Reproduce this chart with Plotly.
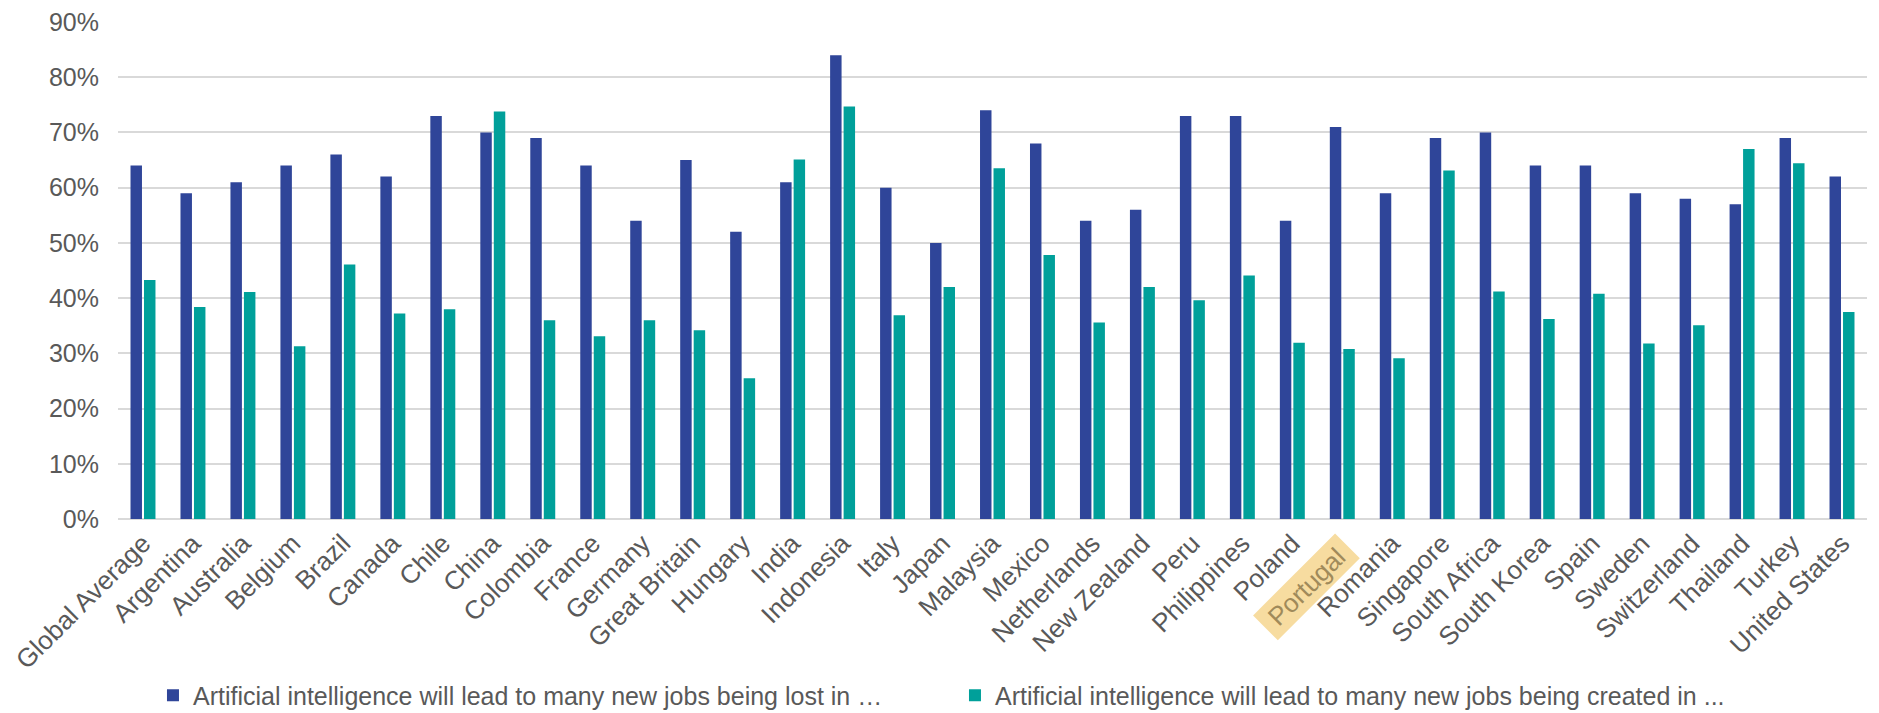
import plotly.graph_objects as go

# Share of respondents agreeing, by country (fractions of 1)
countries = [
    "Global Average", "Argentina", "Australia", "Belgium", "Brazil", "Canada",
    "Chile", "China", "Colombia", "France", "Germany", "Great Britain",
    "Hungary", "India", "Indonesia", "Italy", "Japan", "Malaysia", "Mexico",
    "Netherlands", "New Zealand", "Peru", "Philippines", "Poland", "Portugal",
    "Romania", "Singapore", "South Africa", "South Korea", "Spain", "Sweden",
    "Switzerland", "Thailand", "Turkey", "United States",
]

jobs_lost = [
    0.64, 0.59, 0.61, 0.64, 0.66, 0.62, 0.73, 0.70, 0.69, 0.64, 0.54, 0.65,
    0.52, 0.61, 0.84, 0.60, 0.50, 0.74, 0.68, 0.54, 0.56, 0.73, 0.73, 0.54,
    0.71, 0.59, 0.69, 0.70, 0.64, 0.64, 0.59, 0.58, 0.57, 0.69, 0.62,
]

jobs_created = [
    0.433, 0.384, 0.411, 0.313, 0.461, 0.372, 0.380, 0.738, 0.360, 0.331,
    0.360, 0.342, 0.255, 0.651, 0.747, 0.369, 0.420, 0.635, 0.478, 0.356,
    0.420, 0.396, 0.441, 0.319, 0.308, 0.291, 0.631, 0.412, 0.362, 0.408,
    0.318, 0.351, 0.670, 0.644, 0.375,
]

series_names = [
    "Artificial intelligence will lead to many new jobs being lost in …",
    "Artificial intelligence will lead to many new jobs being created in ...",
]

highlighted = "Portugal"

BLUE = "#2F4599"
TEAL = "#00A09A"
GREY = "#595959"
FONT = "Liberation Sans, Arial, sans-serif"

fig = go.Figure()
fig.add_trace(go.Bar(x=countries, y=jobs_lost, name=series_names[0],
                     marker=dict(color=BLUE, line=dict(width=0))))
fig.add_trace(go.Bar(x=countries, y=jobs_created, name=series_names[1],
                     marker=dict(color=TEAL, line=dict(width=0))))

# The highlighted country gets its own label with a coloured band
tick_text = ["" if c == highlighted else c for c in countries]

fig.add_annotation(
    x=highlighted, xref="x", y=0, yref="paper",
    text=" " + highlighted + " ",
    textangle=-45,
    xanchor="center", yanchor="middle",
    xshift=-36, yshift=-68,
    showarrow=False,
    bgcolor="#F7DCA0",
    borderpad=2,
    font=dict(family=FONT, size=26, color="#A08A5A"),
)

fig.update_layout(
    width=1879, height=713,
    margin=dict(l=117.5, r=11.5, t=21.7, b=193.5, autoexpand=False),
    paper_bgcolor="white", plot_bgcolor="white",
    barmode="group", bargap=0.46, bargroupgap=0.15,
    font=dict(family=FONT, color=GREY),
    showlegend=True,
    legend=dict(
        orientation="h", x=0.02, xanchor="left", y=-0.355, yanchor="middle",
        font=dict(family=FONT, size=25, color=GREY),
        entrywidth=757, entrywidthmode="pixels",
        traceorder="normal",
    ),
)

fig.update_xaxes(
    tickmode="array", tickvals=countries, ticktext=tick_text,
    tickangle=-45, tickfont=dict(family=FONT, size=26, color=GREY),
    showgrid=False, showline=False, ticks="", ticklabelstandoff=3,
    automargin=False,
)

fig.update_yaxes(
    range=[0, 0.9], dtick=0.1, tickformat=".0%",
    tickfont=dict(family=FONT, size=25, color=GREY),
    showgrid=True, gridcolor="#D9D9D9", gridwidth=2,
    zeroline=True, zerolinecolor="#D9D9D9", zerolinewidth=2,
    showline=False, ticks="", ticklabelstandoff=18,
    automargin=False,
)

fig.write_html("out.html")
